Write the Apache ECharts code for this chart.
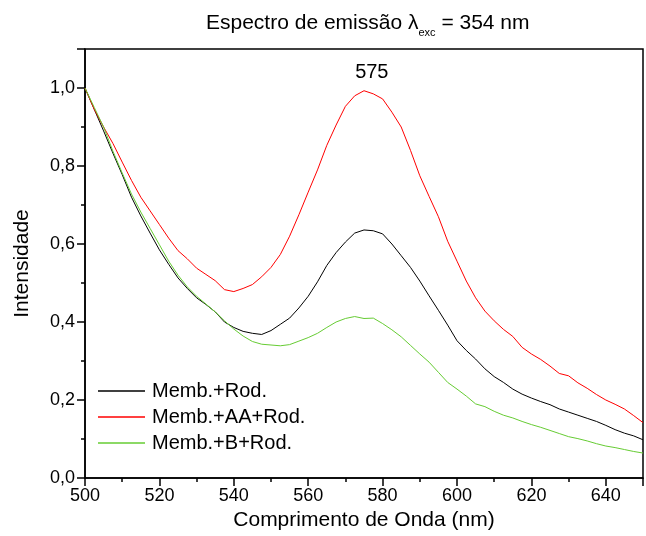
<!DOCTYPE html>
<html>
<head>
<meta charset="utf-8">
<script src="https://cdn.jsdelivr.net/npm/echarts@6/dist/echarts.min.js"></script>
<style>html,body{margin:0;padding:0;background:#fff}#c{width:646px;height:536px}</style>
</head>
<body>
<div id="c"></div>
<script>
// wavelengths (nm), step 2.5
const wavelengths = [500,502.5,505,507.5,510,512.5,515,517.5,520,522.5,525,527.5,530,532.5,535,537.5,540,542.5,545,547.5,550,552.5,555,557.5,560,562.5,565,567.5,570,572.5,575,577.5,580,582.5,585,587.5,590,592.5,595,597.5,600,602.5,605,607.5,610,612.5,615,617.5,620,622.5,625,627.5,630,632.5,635,637.5,640,642.5,645,647.5,650];
const membRod = [1.000,0.945,0.890,0.833,0.778,0.720,0.672,0.628,0.585,0.548,0.513,0.486,0.462,0.445,0.426,0.400,0.386,0.376,0.371,0.368,0.378,0.394,0.410,0.436,0.466,0.503,0.545,0.578,0.605,0.628,0.636,0.634,0.626,0.600,0.570,0.540,0.505,0.467,0.430,0.392,0.352,0.327,0.305,0.280,0.260,0.245,0.228,0.215,0.205,0.196,0.188,0.177,0.169,0.161,0.153,0.145,0.135,0.124,0.115,0.108,0.098];
const membAARod = [1.000,0.945,0.900,0.858,0.810,0.763,0.720,0.685,0.650,0.615,0.583,0.562,0.538,0.522,0.506,0.483,0.478,0.486,0.496,0.516,0.540,0.573,0.620,0.675,0.733,0.790,0.853,0.905,0.953,0.980,0.993,0.985,0.972,0.938,0.900,0.840,0.775,0.722,0.670,0.607,0.556,0.505,0.462,0.428,0.403,0.381,0.363,0.335,0.318,0.304,0.287,0.268,0.262,0.244,0.230,0.214,0.200,0.189,0.177,0.160,0.142];
const membBRod = [1.000,0.950,0.900,0.838,0.782,0.728,0.682,0.640,0.598,0.556,0.520,0.490,0.466,0.446,0.426,0.403,0.382,0.364,0.350,0.343,0.341,0.339,0.342,0.351,0.360,0.371,0.386,0.400,0.409,0.414,0.409,0.410,0.396,0.380,0.362,0.340,0.318,0.297,0.271,0.245,0.228,0.210,0.190,0.183,0.171,0.161,0.154,0.145,0.137,0.130,0.122,0.114,0.106,0.101,0.095,0.088,0.082,0.078,0.073,0.068,0.064];
const seriesNames = ['Memb.+Rod.', 'Memb.+AA+Rod.', 'Memb.+B+Rod.'];
const peakLabel = '575';
const peakPos = [577.1, 1.04];

const FONT = "'Liberation Sans', Arial, sans-serif";
const pairs = arr => wavelengths.map((w, i) => [w, arr[i]]);

const chart = echarts.init(document.getElementById('c'), null, {renderer: 'canvas'});
const grid = {left: 85, top: 49, width: 562.5, height: 429, show: true, borderColor: '#000', borderWidth: 1.5, backgroundColor: 'transparent'};

chart.setOption({
  animation: false,
  backgroundColor: '#fff',
  title: {
    text: '{a|Espectro de emissão λ}{s|exc}{a| = 354 nm}',
    left: 206, top: 8, padding: 0,
    textStyle: {
      fontWeight: 'normal',
      rich: {
        a: {fontSize: 21, fontFamily: FONT, fontWeight: 'normal', color: '#000', lineHeight: 30, verticalAlign: 'middle'},
        s: {fontSize: 11, fontFamily: FONT, fontWeight: 'normal', color: '#000', lineHeight: 11, verticalAlign: 'bottom'}
      }
    }
  },
  legend: {
    orient: 'vertical', left: 93, top: 376, itemWidth: 47, itemHeight: 1.5, itemGap: 6,
    icon: 'rect',
    textStyle: {fontSize: 20, fontFamily: FONT, color: '#000', lineHeight: 20, padding: [0, 0, 0, 2]},
    data: seriesNames
  },
  grid: grid,
  xAxis: [
    {
      type: 'value', min: 500, max: 650, interval: 10,
      name: 'Comprimento de Onda (nm)', nameLocation: 'middle', nameGap: 31,
      nameTextStyle: {fontSize: 21, fontFamily: FONT, color: '#000'},
      axisLine: {show: true, onZero: false, lineStyle: {color: '#000', width: 1.5}},
      axisTick: {show: true, inside: false, length: 4, lineStyle: {color: '#000', width: 1.5}},
      axisLabel: {
        show: true, margin: 9, fontSize: 18, fontFamily: FONT, color: '#000',
        formatter: v => (Math.round(v) % 20 === 0 && v < 649) ? String(Math.round(v)) : ''
      },
      splitLine: {show: false}
    },
    {
      type: 'value', min: 500, max: 650, interval: 20, position: 'bottom',
      axisLine: {show: false},
      axisTick: {show: true, inside: false, length: 8, lineStyle: {color: '#000', width: 1.5}},
      axisLabel: {show: false},
      splitLine: {show: false}
    }
  ],
  yAxis: [
    {
      type: 'value', min: 0, max: 1.1, interval: 0.1,
      name: 'Intensidade', nameLocation: 'middle', nameGap: 52,
      nameTextStyle: {fontSize: 21, fontFamily: FONT, color: '#000'},
      axisLine: {show: true, onZero: false, lineStyle: {color: '#000', width: 1.5}},
      axisTick: {show: true, inside: false, length: 4, lineStyle: {color: '#000', width: 1.5}},
      axisLabel: {
        show: true, margin: 10, fontSize: 18, fontFamily: FONT, color: '#000',
        formatter: v => (Math.round(v * 10) % 2 === 0 && v < 1.05) ? v.toFixed(1).replace('.', ',') : ''
      },
      splitLine: {show: false}
    },
    {
      type: 'value', min: 0, max: 1.1, interval: 0.2, position: 'left',
      axisLine: {show: false},
      axisTick: {show: true, inside: false, length: 8, lineStyle: {color: '#000', width: 1.5}},
      axisLabel: {show: false},
      splitLine: {show: false}
    }
  ],
  series: [
    {
      name: seriesNames[0], type: 'line', xAxisIndex: 0, yAxisIndex: 0,
      data: pairs(membRod), showSymbol: false, symbol: 'none',
      lineStyle: {color: '#000', width: 1}, itemStyle: {color: '#000'}
    },
    {
      name: seriesNames[1], type: 'line', xAxisIndex: 0, yAxisIndex: 0,
      data: pairs(membAARod), showSymbol: false, symbol: 'none',
      lineStyle: {color: '#ff0000', width: 1}, itemStyle: {color: '#ff0000'},
      markPoint: {
        symbol: 'circle', symbolSize: 0, silent: true,
        label: {show: true, position: 'inside', formatter: peakLabel, fontSize: 20, fontFamily: FONT, color: '#000'},
        data: [{coord: peakPos}]
      }
    },
    {
      name: seriesNames[2], type: 'line', xAxisIndex: 0, yAxisIndex: 0,
      data: pairs(membBRod), showSymbol: false, symbol: 'none',
      lineStyle: {color: '#66cc33', width: 1}, itemStyle: {color: '#66cc33'}
    }
  ]
});
</script>
</body>
</html>
